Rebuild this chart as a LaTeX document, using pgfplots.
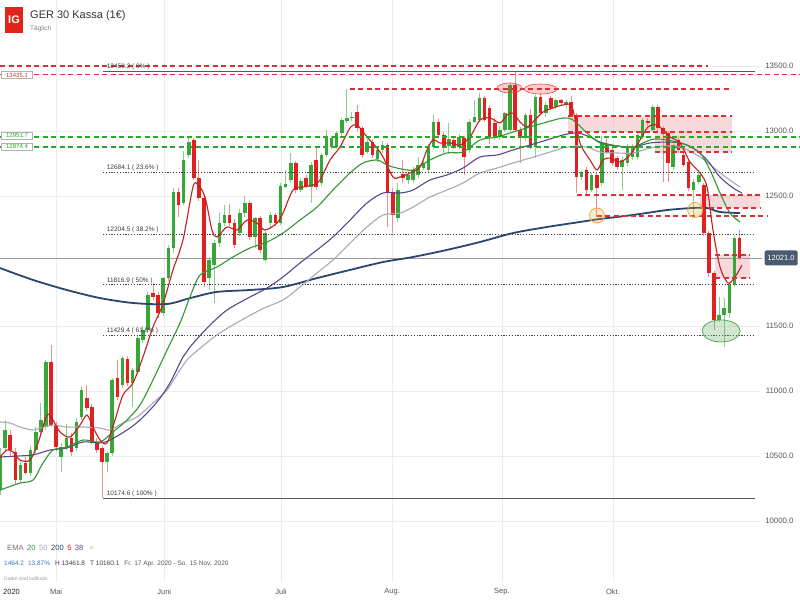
\documentclass[border=0pt]{standalone}
\usepackage{pgfplots}
\pgfplotsset{compat=1.18}
\usepackage{pgfplotstable}
\usepackage{fontspec}
\setmainfont{Liberation Sans}
\definecolor{cgreen}{RGB}{56,166,56}
\definecolor{cred}{RGB}{226,32,32}
\definecolor{wgreen}{RGB}{140,205,140}
\definecolor{wred}{RGB}{240,140,140}
\definecolor{ematw}{RGB}{50,150,50}
\definecolor{emafif}{RGB}{168,168,184}
\definecolor{ematwo}{RGB}{40,70,110}
\definecolor{emafive}{RGB}{200,30,30}
\definecolor{ematho}{RGB}{90,70,140}
\definecolor{rdash}{RGB}{218,50,50}
\definecolor{gdash}{RGB}{40,170,40}
\definecolor{pinkbox}{RGB}{236,160,166}
\definecolor{gridgray}{RGB}{236,236,236}
\definecolor{labgray}{RGB}{85,85,85}
\definecolor{fibtext}{RGB}{60,60,60}
\definecolor{igred}{RGB}{227,36,27}
\definecolor{slate}{RGB}{74,90,112}
\definecolor{legblue}{RGB}{58,120,200}
\definecolor{orangec}{RGB}{240,170,60}
\definecolor{ellgreen}{RGB}{90,170,90}

\pgfplotstableread{
i o h l c
-1 10238 10560 10200 10508
0 10560 10780 10530 10700
1 10662 10700 10500 10546
2 10533 10560 10280 10315
3 10315 10470 10290 10431
4 10444 10490 10360 10373
5 10373 10580 10350 10546
6 10546 10720 10520 10687
7 10687 10905 10650 10777
8 10726 11240 10700 11226
9 11226 11354 10720 10738
10 10738 10760 10540 10572
11 10490 10600 10380 10572
12 10572 10750 10550 10636
13 10636 10680 10500 10533
14 10560 10790 10540 10764
15 10803 11030 10780 11008
16 10944 11050 10850 10867
17 10880 10900 10590 10610
18 10610 10640 10520 10546
19 10559 10580 10175 10456
20 10456 10540 10380 10521
21 10521 11100 10500 11085
22 11098 11240 10930 10957
23 11046 11270 11020 11251
24 11244 11270 11040 11059
25 11059 11180 10880 11162
26 11149 11420 11130 11405
27 11392 11500 11370 11469
28 11469 11760 11450 11738
29 11751 11830 11700 11726
30 11738 11760 11560 11600
31 11600 11880 11580 11870
32 11870 12120 11850 12100
33 12097 12560 12060 12533
34 12533 12560 12340 12431
35 12450 12850 12430 12777
36 12815 12960 12790 12918
37 12931 12945 12620 12636
38 12636 12780 12460 12482
39 12482 12500 11800 11841
40 11866 12030 11780 12008
41 11970 12160 11680 12136
42 12136 12380 12110 12290
43 12290 12430 12270 12354
44 12354 12440 12270 12290
45 12290 12320 12100 12123
46 12213 12400 12190 12367
47 12367 12500 12340 12443
48 12443 12460 12160 12187
49 12187 12340 12100 12328
50 12328 12350 12060 12085
51 12008 12230 11990 12213
52 12290 12380 12250 12354
53 12354 12370 12270 12290
54 12295 12600 12280 12577
55 12572 12700 12560 12592
56 12623 12830 12600 12751
57 12756 12770 12520 12546
58 12546 12640 12530 12618
59 12636 12660 12560 12580
60 12572 12760 12450 12738
61 12777 12880 12550 12572
62 12597 12830 12580 12815
63 12815 13010 12800 12943
64 12880 12960 12860 12943
65 12879 13000 12860 12982
66 12982 13100 12960 13084
67 13080 13320 13060 13100
68 13100 13150 13080 13110
69 13149 13200 13000 13020
70 13020 13040 12790 12815
71 12841 12940 12820 12918
72 12918 12940 12790 12815
73 12782 12870 12760 12854
74 12854 12920 12830 12892
75 12892 12910 12264 12533
76 12533 12560 12213 12354
77 12328 12600 12300 12546
78 12670 12780 12600 12636
79 12620 12680 12590 12661
80 12623 12720 12600 12700
81 12661 12800 12640 12738
82 12713 12770 12700 12751
83 12700 12900 12680 12885
84 12879 13120 12860 13072
85 13072 13090 12950 12969
86 12969 12990 12830 12866
87 12885 13060 12820 12936
88 12931 12960 12860 12879
89 12879 12980 12860 12956
90 12943 12960 12661 12802
91 12854 13090 12830 13072
92 13072 13240 13060 13110
93 13084 13290 13070 13251
94 13251 13270 13070 13084
95 13174 13200 12900 12956
96 13060 13100 12930 12960
97 12956 13040 12930 13008
98 13008 13150 12990 13136
99 13008 13370 12990 13354
100 13354 13456 12990 13008
101 13008 13030 12751 12943
102 12943 13140 12920 13123
103 13123 13170 12860 12879
104 12879 13280 12790 13264
105 13264 13290 13120 13136
106 13136 13220 13110 13200
107 13251 13270 13160 13174
108 13187 13250 13170 13238
109 13238 13250 13200 13213
110 13200 13240 13180 13225
111 13226 13270 13110 13123
112 13123 13140 12520 12648
113 12648 12700 12620 12687
114 12700 12720 12507 12546
115 12546 12680 12530 12661
116 12661 12680 12341 12559
117 12597 12960 12580 12905
118 12892 12960 12820 12841
119 12853 12880 12730 12751
120 12790 12810 12700 12725
121 12725 12800 12546 12777
122 12751 12900 12730 12879
123 12802 12900 12780 12879
124 12802 12990 12780 12969
125 12956 13100 12940 13084
126 13080 13100 13040 13060
127 13008 13200 12990 13187
128 13187 13200 13000 13020
129 13020 13040 12610 12980
130 12982 13000 12610 12751
131 12725 12910 12700 12892
132 12930 12960 12830 12853
133 12815 12840 12720 12738
134 12764 12780 12540 12559
135 12546 12630 12341 12610
136 12610 12680 12590 12661
137 12584 12600 12190 12212
138 12212 12230 11880 11905
139 11905 11920 11469 11546
140 11546 11720 11530 11584
141 11584 11713 11341 11636
142 11597 11830 11560 11815
143 11815 12190 11800 12174
144 12174 12238 12010 12021
}\candles

\pgfplotsset{
  wick/.style={draw=none, mark=none, forget plot,
    error bars/.cd, y dir=both, y explicit, error mark=none,
    error bar style={line width=0.9pt, draw=#1}},
  body/.style={draw=none, mark=none, forget plot,
    error bars/.cd, y dir=both, y explicit, error mark=none,
    error bar style={line width=3.6pt, draw=#1}},
  rdl/.style={draw=rdash, line width=1.6pt, dash pattern=on 5pt off 3.5pt, forget plot},
  gdl/.style={draw=gdash, line width=1.8pt, dash pattern=on 5pt off 3.5pt, forget plot},
  fibl/.style={draw=black!75, line width=1.1pt, dash pattern=on 1.2pt off 1.6pt, forget plot},
  fibs/.style={draw=black!65, line width=1.4pt, forget plot},
  pbox/.style={draw=none, fill=pinkbox, fill opacity=0.4, forget plot},
  ema/.style={draw=#1, line width=1.1pt, smooth, tension=0.5, mark=none, forget plot},
}

\begin{document}
\begin{tikzpicture}
\useasboundingbox (0,0) rectangle (800pt,600pt);
\fill[white] (0,0) rectangle (800pt,600pt);
\begin{axis}[
  at={(0pt,18pt)}, anchor=south west,
  scale only axis, width=760pt, height=582pt,
  xmin=-1, xmax=148.02, ymin=9530.9, ymax=14007.7,
  clip=false,
  scaled x ticks=false, scaled y ticks=false,
  axis line style={draw=none},
  major tick length=0pt,
  xtick={10,31.2,54.1,75.9,97.4,119.2},
  xticklabels={Mai,Juni,Juli,Aug.,Sep.,Okt.},
  ytick={10000,10500,11000,11500,12500,13000,13500},
  yticklabels={10000.0,10500.0,11000.0,11500.0,12500.0,13000.0,13500.0},
  yticklabel pos=right,
  grid=major, grid style={draw=gridgray, line width=0.6pt},
  xticklabel style={anchor=center, yshift=-10pt, font=\fontsize{7.5}{9}\selectfont, text=labgray},
  yticklabel style={anchor=east, xshift=37pt, font=\fontsize{7.8}{9}\selectfont, text=labgray},
]
% pink zones
\addplot[pbox] coordinates {(110.4,12992) (142.5,12992) (142.5,13115) (110.4,13115)} -- cycle;
\addplot[pbox] coordinates {(127.4,12838) (142.5,12838) (142.5,12992) (127.4,12992)} -- cycle;
\addplot[pbox] coordinates {(136.3,12408) (148,12408) (148,12508) (136.3,12508)} -- cycle;
\addplot[pbox] coordinates {(139.2,11869) (146,11869) (146,12046) (139.2,12046)} -- cycle;

% current price line
\addplot[draw=black!40, line width=0.7pt, forget plot] coordinates {(-1,12021) (148.4,12021)};

% wicks
\addplot[wick=wgreen] table[x=i, y expr={\thisrow{c}>\thisrow{o} ? 0.5*(\thisrow{h}+\thisrow{l}) : nan}, y error expr={0.5*(\thisrow{h}-\thisrow{l})}] {\candles};
\addplot[wick=wred] table[x=i, y expr={\thisrow{c}<\thisrow{o} ? 0.5*(\thisrow{h}+\thisrow{l}) : nan}, y error expr={0.5*(\thisrow{h}-\thisrow{l})}] {\candles};
% bodies
\addplot[body=cgreen] table[x=i, y expr={\thisrow{c}>\thisrow{o} ? 0.5*(\thisrow{o}+\thisrow{c}) : nan}, y error expr={max(0.5*abs(\thisrow{c}-\thisrow{o}),6)}] {\candles};
\addplot[body=cred] table[x=i, y expr={\thisrow{c}<\thisrow{o} ? 0.5*(\thisrow{o}+\thisrow{c}) : nan}, y error expr={max(0.5*abs(\thisrow{c}-\thisrow{o}),6)}] {\candles};

% EMA 200
\addplot[ema=ematwo, line width=1.8pt] coordinates {(-1,11946) (5.5,11854) (12.1,11777) (18.6,11715) (25.1,11677) (31.7,11669) (36.3,11715) (41.5,11762) (48,11777) (54.5,11800) (61.2,11869) (67.6,11931) (74.1,11992) (80,12031) (86.6,12085) (93.1,12146) (99.6,12215) (106.3,12262) (112.7,12300) (116.6,12323) (123.1,12354) (129.8,12392) (134.9,12408) (137.6,12408) (140.2,12377) (144.1,12369)};
% EMA 50
\addplot[ema=emafif] coordinates {(-1,10762) (0.96,10754) (2.92,10723) (5.47,10700) (7.43,10723) (9.39,10738) (12.14,10723) (15.27,10723) (18.61,10715) (20.57,10700) (23.12,10754) (25.86,10800) (29,10908) (31.75,11008) (34.29,11162) (36.25,11262) (42.1,11446) (49.98,11623) (54.49,11700) (57.82,11800) (61.16,11908) (64.29,12008) (67.63,12138) (70.96,12262) (74.1,12354) (77.43,12369) (79.98,12415) (83.31,12492) (86.65,12546) (89.78,12600) (93.12,12677) (96.45,12715) (99.59,12754) (102.92,12792) (106.25,12831) (109.39,12869) (112.14,12885) (114.69,12869) (116.65,12838) (119.98,12831) (123.12,12831) (126.45,12869) (129.78,12885) (132.92,12869) (136.25,12800) (138.8,12723) (141.55,12638) (144.1,12569)};
% EMA 38
\addplot[ema=ematho] coordinates {(-1,10492) (2.33,10500) (5.47,10508) (8.8,10546) (12.14,10562) (15.27,10608) (18.61,10600) (20.57,10623) (23.9,10700) (26.45,10777) (29.78,10915) (32.33,11062) (34.88,11262) (36.25,11338) (39.8,11492) (43.51,11623) (48.02,11723) (51.35,11792) (54.49,11877) (57.82,11985) (61.16,12085) (64.29,12185) (67.63,12315) (70.96,12446) (74.1,12523) (77.43,12523) (79.98,12546) (83.31,12623) (86.65,12662) (89.78,12715) (93.12,12800) (96.45,12815) (99.59,12854) (102.92,12892) (106.25,12931) (109.39,12969) (112.14,12985) (114.69,12954) (116.65,12915) (119.98,12885) (123.12,12877) (126.45,12908) (129.78,12915) (132.33,12908) (134.88,12869) (137.63,12777) (140.18,12646) (142.73,12562) (144.49,12523)};
% EMA 20
\addplot[ema=ematw] coordinates {(-1,10238) (2.92,10292) (5.47,10315) (7.43,10446) (9.39,10546) (12.14,10569) (15.27,10623) (18.61,10608) (21.16,10685) (23.9,10777) (26.45,10892) (29,11085) (31.75,11315) (34.29,11523) (36.25,11723) (38.22,11892) (41.55,11954) (44.69,12031) (48.02,12100) (51.35,12146) (54.49,12215) (57.82,12315) (61.16,12415) (64.29,12546) (67.63,12677) (70.18,12754) (72.92,12777) (74.88,12738) (76.84,12715) (79.98,12700) (83.31,12777) (86.65,12831) (89.78,12838) (93.12,12931) (96.45,12954) (99.59,12992) (102.92,13031) (106.25,13069) (109.39,13100) (111.35,13085) (114.1,12985) (116.65,12908) (119.98,12885) (123.12,12877) (126.45,12931) (128.41,12938) (131.75,12915) (133.71,12892) (136.25,12831) (138.22,12700) (140.18,12523) (142.14,12369) (144.1,12300)};
% EMA 5
\addplot[ema=emafive] coordinates {(-1,10492) (0.37,10546) (1.55,10531) (2.92,10469) (4.88,10469) (6.45,10600) (8.22,10815) (9.39,10777) (10.76,10685) (12.73,10646) (14.69,10738) (16.06,10815) (17.24,10723) (18.61,10623) (19.98,10600) (21.55,10777) (23.12,10969) (25.08,11062) (27.04,11262) (29,11492) (30.96,11669) (32.92,11931) (34.88,12162) (36.84,12569) (37.82,12585) (39.2,12492) (40.57,12238) (41.55,12185) (43.51,12262) (45.47,12238) (47.43,12315) (49.39,12292) (50.96,12238) (53.31,12292) (54.49,12369) (56.45,12546) (58.41,12569) (60.37,12585) (61.75,12623) (63.71,12777) (65.67,12877) (67.63,13023) (69,13046) (70.96,12954) (72.92,12869) (74.1,12800) (76.06,12646) (77.43,12646) (79.39,12677) (81.35,12723) (82.73,12854) (83.9,12931) (85.27,12908) (87.24,12908) (89.2,12892) (91.16,12954) (93.12,13085) (95.08,13100) (97.04,13062) (98.41,13123) (99.59,13138) (100.96,13069) (102.33,13031) (103.51,13069) (105.47,13146) (107.43,13177) (109.39,13200) (111.16,13185) (112.73,12908) (114.69,12777) (116.06,12700) (117.24,12777) (118.61,12792) (120.57,12762) (122.53,12815) (124.49,12931) (126.06,13031) (127.82,13046) (129.39,12992) (130.37,12954) (132.33,12908) (134.29,12762) (136.25,12677) (137.63,12569) (138.8,12238) (140.18,11954) (141.75,11831) (143.12,11877) (144.49,11969)};

% red dashed levels
\addplot[rdl] coordinates {(-1,13502) (137.8,13502)};
\addplot[rdl] coordinates {(-1,13435.1) (155.9,13435.1)};
\addplot[rdl] coordinates {(67.6,13321) (142.1,13321)};
\addplot[rdl] coordinates {(110.4,13115) (142.5,13115)};
\addplot[rdl] coordinates {(110.4,12992) (142.5,12992)};
\addplot[rdl] coordinates {(127.4,12838) (142.5,12838)};
\addplot[rdl] coordinates {(112.1,12508) (148,12508)};
\addplot[rdl] coordinates {(136.3,12408) (148,12408)};
\addplot[rdl] coordinates {(116,12346) (149.6,12346)};
\addplot[rdl] coordinates {(139.2,12046) (146,12046)};
\addplot[rdl] coordinates {(139.2,11869) (146,11869)};
% green dashed levels
\addplot[gdl] coordinates {(-1,12951.7) (155.9,12951.7)};
\addplot[gdl] coordinates {(-1,12874.4) (155.9,12874.4)};
% fibonacci levels
\addplot[fibs] coordinates {(19.2,13459.2) (147,13459.2)};
\addplot[fibl] coordinates {(19.2,12684.1) (147,12684.1)};
\addplot[fibl] coordinates {(19.2,12204.5) (147,12204.5)};
\addplot[fibl] coordinates {(19.2,11816.9) (147,11816.9)};
\addplot[fibl] coordinates {(19.2,11429.4) (147,11429.4)};
\addplot[fibs] coordinates {(19.2,10174.6) (147,10174.6)};

\begin{scope}[every node/.style={anchor=south west, inner sep=0.6pt, font=\fontsize{6.5}{7}\selectfont, text=fibtext}]
\node at (axis cs:19.8,13462) {13459.2 ( 0\% )};
\node at (axis cs:19.8,12690) {12684.1 ( 23.6\% )};
\node at (axis cs:19.8,12210) {12204.5 ( 38.2\% )};
\node at (axis cs:19.8,11822) {11816.9 ( 50\% )};
\node at (axis cs:19.8,11435) {11429.4 ( 61.8\% )};
\node at (axis cs:19.8,10180) {10174.6 ( 100\% )};
\end{scope}

% annotations
\draw[cred!80, line width=0.6pt, fill=cred, fill opacity=0.22] (axis cs:98.9,13331) ellipse [x radius=12.5pt, y radius=5pt];
\draw[cred!80, line width=0.6pt, fill=cred, fill opacity=0.22] (axis cs:105,13323) ellipse [x radius=16.5pt, y radius=5pt];
\draw[orangec, line width=0.8pt, fill=orangec, fill opacity=0.25] (axis cs:116.06,12350) circle [radius=7.5pt];
\draw[orangec, line width=0.8pt, fill=orangec, fill opacity=0.25] (axis cs:135.3,12392) circle [radius=7.5pt];
\draw[ellgreen, line width=0.8pt, fill=ellgreen, fill opacity=0.28] (axis cs:140.4,11462) ellipse [x radius=19pt, y radius=11pt];
\end{axis}

% header
\fill[igred] (5pt,567pt) rectangle (23pt,593pt);
\node[text=white, font=\fontsize{11}{12}\selectfont\bfseries] at (14pt,580pt) {IG};
\node[anchor=west, inner sep=0pt, text=black!80, font=\fontsize{11}{12}\selectfont] at (30pt,584pt) {GER 30 Kassa (1€)};
\node[anchor=west, inner sep=0pt, text=black!50, font=\fontsize{6.5}{7}\selectfont] at (30pt,571pt) {Täglich};

% left price boxes
\node[draw=black!30, fill=white, line width=0.4pt, inner sep=1.2pt, text=rdash, font=\fontsize{6}{7}\selectfont, minimum width=31pt] at (17pt,525pt) {13435.1};
\node[draw=black!30, fill=white, line width=0.4pt, inner sep=1.2pt, text=gdash, font=\fontsize{6}{7}\selectfont, minimum width=31pt] at (17pt,464.5pt) {12951.7};
\node[draw=black!30, fill=white, line width=0.4pt, inner sep=1.2pt, text=gdash, font=\fontsize{6}{7}\selectfont, minimum width=31pt] at (17pt,453.5pt) {12874.4};

% current price label
\node[fill=slate, rounded corners=1.5pt, text=white, inner sep=0pt, minimum width=33pt, minimum height=15pt, font=\fontsize{7.5}{9}\selectfont] at (781pt,342pt) {12021.0};

% bottom legend
\node[anchor=west, inner sep=0pt, font=\fontsize{7.6}{9}\selectfont] at (7pt,52pt) {\textcolor{black!55}{EMA}\hspace{3.5pt}\textcolor{ematw}{20}\hspace{3.5pt}\textcolor{emafif}{50}\hspace{3.5pt}\textcolor{ematwo}{200}\hspace{3.5pt}\textcolor{emafive}{5}\hspace{3.5pt}\textcolor{ematho}{38}\hspace{6pt}\textcolor{black!30}{×}};
\node[anchor=west, inner sep=0pt, font=\fontsize{6.5}{7.5}\selectfont] at (4pt,36pt) {\textcolor{legblue}{1464.2}\hspace{4pt}\textcolor{legblue}{13.87\%}\hspace{5pt}\textcolor{black!75}{H 13461.8}\hspace{5pt}\textcolor{black!75}{T 10160.1}\hspace{5pt}\textcolor{black!65}{Fr. 17 Apr. 2020 - So. 15 Nov. 2020}};
\node[anchor=west, inner sep=0pt, text=black!40, font=\fontsize{5}{6}\selectfont] at (4pt,21pt) {Daten sind indikativ};
\node[anchor=west, inner sep=0pt, text=black!85, font=\fontsize{7.5}{9}\selectfont] at (3pt,8pt) {2020};
\end{tikzpicture}
\end{document}
